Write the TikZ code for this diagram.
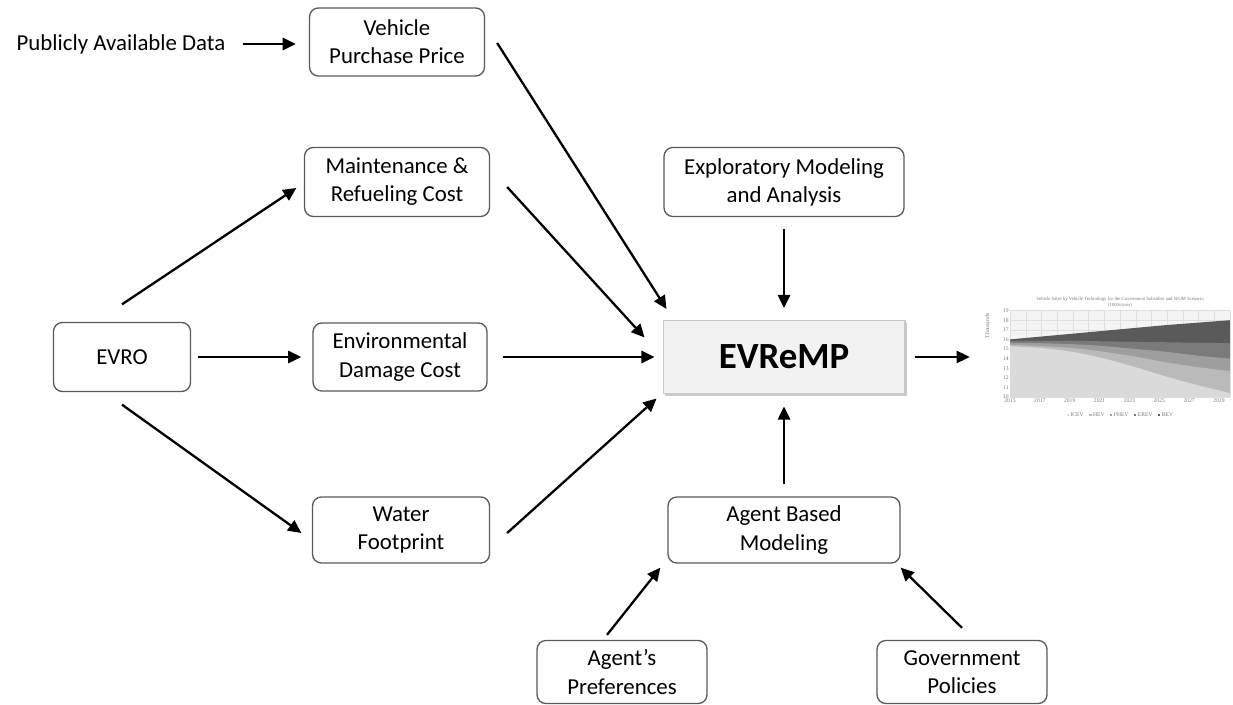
\documentclass[tikz,border=0pt]{standalone}
\usepackage{fontspec}
\setmainfont{Carlito}
\newfontfamily\chartfont{Liberation Serif}
\usetikzlibrary{arrows.meta,positioning,shadows}
\definecolor{BoxLine}{RGB}{89,89,89}
\definecolor{CoreFill}{RGB}{242,242,242}
\definecolor{CoreLine}{RGB}{200,200,200}
\definecolor{PlotBg}{RGB}{244,244,244}
\definecolor{GridLine}{RGB}{222,222,222}
\definecolor{ChartText}{RGB}{120,120,120}
\definecolor{BevGray}{RGB}{90,90,90}
\definecolor{ErevGray}{RGB}{122,122,122}
\definecolor{PhevGray}{RGB}{158,158,158}
\definecolor{HevGray}{RGB}{186,186,186}
\definecolor{IcevGray}{RGB}{218,218,218}
\tikzset{
  box/.style={draw=BoxLine,rounded corners=5pt,line width=0.75pt,align=center,
    font=\fontsize{13}{16}\selectfont,inner sep=0pt},
  core/.style={draw=CoreLine,fill=CoreFill,line width=0.6pt,
    font=\fontsize{21}{24}\selectfont\bfseries,
    drop shadow={shadow xshift=1.3pt,shadow yshift=-1.3pt,fill=black!40}},
  arrow/.style={-{Triangle[length=7.5pt,width=7pt]},line width=1.3pt},
  tick/.style={font=\chartfont\fontsize{3.2}{3.7}\selectfont,text=ChartText,inner sep=0.6pt}
}

\begin{document}
\begin{tikzpicture}[x=0.02cm,y=-0.02cm]
  \useasboundingbox (0,0) rectangle (1233,705);

  % inputs
  \node[font=\fontsize{13}{16}\selectfont,inner sep=0pt] (pub) at (121,44) {Publicly Available Data};
  \node[box,minimum width=3.5cm,minimum height=1.36cm] (veh) at (397,42) {Vehicle\\Purchase Price};
  \node[box,minimum width=3.7cm,minimum height=1.38cm] (maint) at (397,182) {Maintenance \&\\Refueling Cost};
  \node[box,minimum width=3.48cm,minimum height=1.36cm] (env) at (400,357) {Environmental\\Damage Cost};
  \node[box,minimum width=3.54cm,minimum height=1.32cm] (water) at (401,530) {Water\\Footprint};
  \node[box,minimum width=2.74cm,minimum height=1.38cm] (evro) at (122,357) {EVRO};

  % core model
  \node[box,minimum width=4.8cm,minimum height=1.38cm] (expl) at (784,182) {Exploratory Modeling\\and Analysis};
  \node[core,minimum width=4.84cm,minimum height=1.46cm] (evremp) at (784,357) {EVReMP};
  \node[box,minimum width=4.64cm,minimum height=1.32cm] (abm) at (784,530) {Agent Based\\Modeling};
  \node[box,minimum width=3.4cm,minimum height=1.26cm] (pref) at (622,672) {Agent’s\\Preferences};
  \node[box,minimum width=3.4cm,minimum height=1.26cm] (gov) at (962,672) {Government\\Policies};

  % output chart
  \node[minimum width=4.96cm,minimum height=2.46cm,inner sep=0pt] (chart) at (1109,357) {};
  \begin{scope}[shift={(1010,397)},x=0.3143cm,y=0.192cm]
    \fill[PlotBg] (0,0) rectangle (14,9);
    \foreach \i in {0,...,14} \draw[GridLine,line width=0.2pt] (\i,0) -- (\i,9);
    \foreach \j in {0,...,9} \draw[GridLine,line width=0.2pt] (0,\j) -- (14,\j);
    \fill[BevGray] (0,0) -- plot[smooth] coordinates {(0,6.0) (2,6.3) (4,6.6) (6,6.9) (8,7.2) (10,7.5) (12,7.75) (14,8.0)} -- (14,0) -- cycle;
    \fill[ErevGray] (0,0) -- plot[smooth] coordinates {(0,5.85) (2,5.85) (4,5.85) (6,5.8) (8,5.75) (10,5.7) (12,5.65) (14,5.6)} -- (14,0) -- cycle;
    \fill[PhevGray] (0,0) -- plot[smooth] coordinates {(0,5.65) (2,5.6) (4,5.5) (6,5.3) (8,5.0) (10,4.7) (12,4.3) (14,4.0)} -- (14,0) -- cycle;
    \fill[HevGray] (0,0) -- plot[smooth] coordinates {(0,5.45) (2,5.3) (4,5.1) (6,4.7) (8,4.2) (10,3.6) (12,3.1) (14,2.7)} -- (14,0) -- cycle;
    \fill[IcevGray] (0,0) -- plot[smooth] coordinates {(0,5.3) (2,5.1) (4,4.7) (6,4.0) (8,3.1) (10,2.1) (12,1.2) (14,0.4)} -- (14,0) -- cycle;
    \foreach \j in {0,...,9}{
      \pgfmathtruncatemacro\lab{\j+10}
      \node[tick,left] (yt\j) at (0,\j) {\lab};
    }
    \foreach \yr in {2015,2017,...,2029}{
      \pgfmathsetmacro\xx{(\yr-2015)*0.95}
      \node[tick,below] (xt\yr) at (\xx,0) {\yr};
    }
    \node[tick,rotate=90] (ylab) at (-1.45,7.4) {Thousands};
    \node[tick,align=center,font=\chartfont\fontsize{2.7}{3.2}\selectfont] (title) at (7,9.85)
      {Vehicle Sales by Vehicle Technology for the Government Subsidies and WOM Scenario\\(1000s/year)};
    \node[tick] (legend) at (7,-1.8) {%
      \textcolor{IcevGray}{\rule{1.3pt}{1.3pt}}~ICEV\quad
      \textcolor{HevGray}{\rule{1.3pt}{1.3pt}}~HEV\quad
      \textcolor{PhevGray}{\rule{1.3pt}{1.3pt}}~PHEV\quad
      \textcolor{ErevGray}{\rule{1.3pt}{1.3pt}}~EREV\quad
      \textcolor{BevGray}{\rule{1.3pt}{1.3pt}}~BEV};
  \end{scope}

  % connectors
  \draw[arrow] ([shift={(17,0)}]pub.east) -- ([shift={(-13,2)}]veh.west);
  \draw[arrow] ([shift={(12,1)}]veh.east) -- ([shift={(4,-11)}]evremp.north west);
  \draw[arrow] ([shift={(17,5)}]maint.east) -- ([shift={(-18,17.5)}]evremp.north west);
  \draw[arrow] ([shift={(15,0)}]env.east) -- ([shift={(-8,0)}]evremp.west);
  \draw[arrow] ([shift={(17,3)}]water.east) -- ([shift={(-6,4.5)}]evremp.south west);
  \draw[arrow] ([shift={(0,12)}]expl.south) -- ([shift={(0,-12)}]evremp.north);
  \draw[arrow] ([shift={(0,-12)}]abm.north) -- ([shift={(0,12.5)}]evremp.south);
  \draw[arrow] ([shift={(0,-17.5)}]evro.north) -- ([shift={(-7.5,6)}]maint.west);
  \draw[arrow] ([shift={(6.5,0)}]evro.east) -- ([shift={(-11,0)}]env.west);
  \draw[arrow] ([shift={(0,12.5)}]evro.south) -- ([shift={(-10.5,3)}]water.west);
  \draw[arrow] ([shift={(-15,-5)}]pref.north) -- ([shift={(-7,4)}]abm.south west);
  \draw[arrow] ([shift={(0,-12)}]gov.north) -- ([shift={(0,4)}]abm.south east);
  \draw[arrow] ([shift={(9,0)}]evremp.east) -- ([shift={(-15,0)}]chart.west);
\end{tikzpicture}
\end{document}
